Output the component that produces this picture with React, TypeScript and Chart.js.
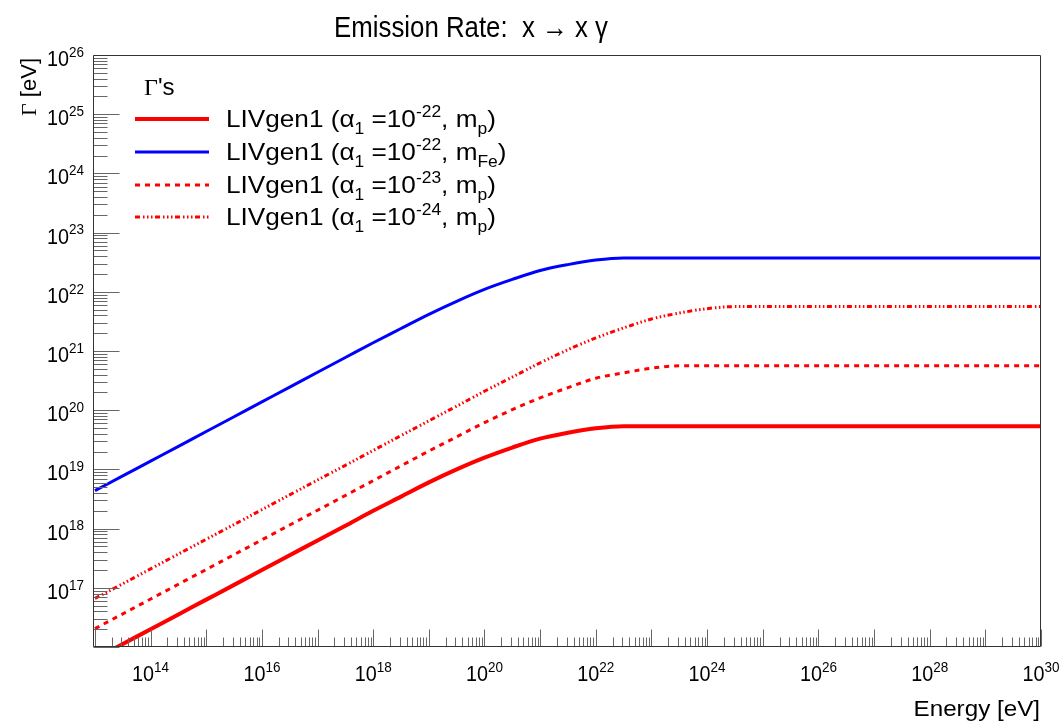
import React, { useEffect, useRef } from "react";
import { Chart, registerables } from "chart.js";

Chart.register(...registerables);

// Particle energy grid [eV]
const energy = [
  1e13, 3.16e13, 1e14, 3.16e14, 1e15, 3.16e15, 1e16, 3.16e16, 1e17, 3.16e17,
  1e18, 3.16e18, 1e19, 3.16e19, 1e20, 3.16e20, 1e21, 3.16e21, 1e22, 3.16e22,
  1e23, 3.16e23, 1e24, 3.16e24, 1e25, 1e26, 1e27, 1e28, 1e29, 1e30,
];

// Emission rates Γ [eV] for each parameter set
const gammaProtonA22 = [
  6.31e15, 1.12e16, 2.0e16, 3.55e16, 6.31e16, 1.12e17, 2.0e17, 3.55e17, 6.31e17, 1.12e18,
  2.0e18, 3.47e18, 6.03e18, 1.0e19, 1.58e19, 2.34e19, 3.31e19, 4.17e19, 4.95e19, 5.37e19,
  5.37e19, 5.37e19, 5.37e19, 5.37e19, 5.37e19, 5.37e19, 5.37e19, 5.37e19, 5.37e19, 5.37e19,
];
const gammaIronA22 = [
  4.37e18, 7.76e18, 1.38e19, 2.45e19, 4.37e19, 7.76e19, 1.38e20, 2.45e20, 4.37e20, 7.76e20,
  1.38e21, 2.4e21, 4.17e21, 6.92e21, 1.1e22, 1.62e22, 2.29e22, 2.88e22, 3.43e22, 3.72e22,
  3.72e22, 3.72e22, 3.72e22, 3.72e22, 3.72e22, 3.72e22, 3.72e22, 3.72e22, 3.72e22, 3.72e22,
];
const gammaProtonA23 = [
  2.04e16, 3.63e16, 6.46e16, 1.15e17, 2.04e17, 3.63e17, 6.46e17, 1.15e18, 2.04e18, 3.63e18,
  6.46e18, 1.15e19, 2.04e19, 3.55e19, 6.17e19, 1.02e20, 1.62e20, 2.4e20, 3.47e20, 4.27e20,
  5.13e20, 5.62e20, 5.62e20, 5.62e20, 5.62e20, 5.62e20, 5.62e20, 5.62e20, 5.62e20, 5.62e20,
];
const gammaProtonA24 = [
  6.61e16, 1.17e17, 2.09e17, 3.72e17, 6.61e17, 1.17e18, 2.09e18, 3.72e18, 6.61e18, 1.17e19,
  2.09e19, 3.72e19, 6.61e19, 1.17e20, 2.09e20, 3.63e20, 6.31e20, 1.05e21, 1.66e21, 2.45e21,
  3.47e21, 4.37e21, 5.19e21, 5.62e21, 5.62e21, 5.62e21, 5.62e21, 5.62e21, 5.62e21, 5.62e21,
];

// Legend entries: [alpha exponent, mass subscript]
const seriesAlphaExp = ["-22", "-22", "-23", "-24"];
const seriesMass = ["p", "Fe", "p", "p"];

// Decade exponents that carry a tick label
const xLabelExps = [14, 16, 18, 20, 22, 24, 26, 28, 30];
const yLabelExps = [17, 18, 19, 20, 21, 22, 23, 24, 25, 26];

const SANS = '"Liberation Sans", Arial, Helvetica, sans-serif';
const SERIF = '"Liberation Serif", "Times New Roman", serif';

type Seg = { t: string; k?: "sup" | "sub"; serif?: boolean };

function segFont(s: Seg, size: number) {
  const sz = s.k ? Math.round(size * 0.68) : size;
  return `${sz}px ${s.serif ? SERIF : SANS}`;
}

function richWidth(ctx: CanvasRenderingContext2D, segs: Seg[], size: number) {
  let w = 0;
  for (const s of segs) {
    ctx.font = segFont(s, size);
    w += ctx.measureText(s.t).width;
  }
  return w;
}

function drawRich(
  ctx: CanvasRenderingContext2D,
  segs: Seg[],
  x: number,
  y: number,
  size: number,
  align: "left" | "center" | "right",
  sx = 1
) {
  const w = richWidth(ctx, segs, size) * sx;
  let cx = align === "left" ? x : align === "center" ? x - w / 2 : x - w;
  ctx.textAlign = "left";
  ctx.textBaseline = "alphabetic";
  for (const s of segs) {
    ctx.font = segFont(s, size);
    const dy = s.k === "sup" ? -size * 0.42 : s.k === "sub" ? size * 0.3 : 0;
    ctx.save();
    ctx.translate(cx, y + dy);
    ctx.scale(sx, 1);
    ctx.fillText(s.t, 0, 0);
    ctx.restore();
    cx += ctx.measureText(s.t).width * sx;
  }
}

const frameDecor = {
  id: "frameDecor",
  afterDatasetsDraw(chart: any) {
    const { ctx, chartArea: a, scales } = chart;
    const xs = scales.x;
    const ys = scales.y;
    const L = Math.round(a.left) + 0.5;
    const R = Math.round(a.right) - 0.5;
    const T = Math.round(a.top) + 0.5;
    const B = Math.round(a.bottom) - 0.5;
    ctx.save();

    // Ticks
    ctx.strokeStyle = "#666";
    ctx.lineWidth = 1;
    ctx.beginPath();
    for (let e = 12; e <= 30; e++) {
      for (let m = 1; m <= 9; m++) {
        const v = m * Math.pow(10, e);
        if (v < xs.min * 0.9999 || v > xs.max * 1.0001) continue;
        const px = Math.round(xs.getPixelForValue(v)) + 0.5;
        const len = m === 1 ? 17 : 9;
        ctx.moveTo(px, B);
        ctx.lineTo(px, B - len);
      }
    }
    for (let e = 16; e <= 26; e++) {
      for (let m = 1; m <= 9; m++) {
        const v = m * Math.pow(10, e);
        if (v < ys.min * 0.9999 || v > ys.max * 1.0001) continue;
        const py = Math.round(ys.getPixelForValue(v)) + 0.5;
        const len = m === 1 ? 26 : 14;
        ctx.moveTo(L, py);
        ctx.lineTo(L + len, py);
      }
    }
    ctx.stroke();

    // Frame
    ctx.strokeStyle = "#333";
    ctx.beginPath();
    ctx.rect(L, T, R - L, B - T);
    ctx.stroke();

    ctx.fillStyle = "#000";
    // X tick labels
    for (const e of xLabelExps) {
      const px = xs.getPixelForValue(Math.pow(10, e));
      drawRich(ctx, [{ t: "10" }, { t: String(e), k: "sup" }], px, 681, 22, "center", 0.9);
    }
    // Y tick labels
    for (const e of yLabelExps) {
      const py = ys.getPixelForValue(Math.pow(10, e));
      drawRich(ctx, [{ t: "10" }, { t: String(e), k: "sup" }], 84, py + 11, 22, "right", 0.9);
    }

    // Axis titles
    drawRich(ctx, [{ t: "Energy [eV]" }], 1040, 716, 22, "right", 1.1);
    ctx.save();
    ctx.translate(36, 58);
    ctx.rotate(-Math.PI / 2);
    drawRich(ctx, [{ t: "Γ", serif: true }, { t: " [eV]" }], 0, 0, 22, "right");
    ctx.restore();

    // Title
    drawRich(ctx, [{ t: "Emission Rate:  x → x γ" }], 471, 37, 30, "center", 0.86);

    // Legend
    drawRich(ctx, [{ t: "Γ", serif: true }, { t: "'s" }], 144, 95, 24, "left");
    const rowY = [119, 152, 185, 217];
    chart.data.datasets.forEach((ds: any, i: number) => {
      const y = rowY[i];
      ctx.save();
      ctx.strokeStyle = ds.borderColor;
      ctx.lineWidth = ds.borderWidth;
      ctx.setLineDash(ds.borderDash || []);
      ctx.beginPath();
      ctx.moveTo(135, y);
      ctx.lineTo(209, y);
      ctx.stroke();
      ctx.restore();
      ctx.fillStyle = "#000";
      drawRich(
        ctx,
        [
          { t: "LIVgen1 (α" },
          { t: "1", k: "sub" },
          { t: " =10" },
          { t: seriesAlphaExp[i], k: "sup" },
          { t: ", m" },
          { t: seriesMass[i], k: "sub" },
          { t: ")" },
        ],
        226,
        y + 8,
        24,
        "left",
        1.09
      );
    });
    ctx.restore();
  },
};

function toPoints(values: number[]) {
  return values.map((v, i) => ({ x: energy[i], y: v }));
}

export default function App() {
  const canvasRef = useRef<HTMLCanvasElement | null>(null);

  useEffect(() => {
    const canvas = canvasRef.current;
    if (!canvas) return;
    const common = {
      pointRadius: 0,
      fill: false,
      cubicInterpolationMode: "monotone" as const,
      clip: 0,
    };
    const chart = new Chart(canvas, {
      type: "line",
      data: {
        datasets: [
          {
            ...common,
            label: "LIVgen1 (α1 =10^-22, m_p)",
            data: toPoints(gammaProtonA22),
            borderColor: "#ff0000",
            borderWidth: 4,
          },
          {
            ...common,
            label: "LIVgen1 (α1 =10^-22, m_Fe)",
            data: toPoints(gammaIronA22),
            borderColor: "#0000ff",
            borderWidth: 3,
          },
          {
            ...common,
            label: "LIVgen1 (α1 =10^-23, m_p)",
            data: toPoints(gammaProtonA23),
            borderColor: "#ff0000",
            borderWidth: 3,
            borderDash: [5, 5],
          },
          {
            ...common,
            label: "LIVgen1 (α1 =10^-24, m_p)",
            data: toPoints(gammaProtonA24),
            borderColor: "#ff0000",
            borderWidth: 3,
            borderDash: [5, 3, 1.5, 2.5, 1.5, 2.5, 1.5, 2.5],
          },
        ],
      },
      options: {
        animation: false,
        responsive: false,
        parsing: false,
        layout: { padding: { left: 93, right: 23, top: 55, bottom: 75 } },
        plugins: {
          legend: { display: false },
          title: { display: false },
          tooltip: { enabled: false },
        },
        scales: {
          x: { type: "logarithmic", min: Math.pow(10, 12.965), max: 1e30, display: false },
          y: { type: "logarithmic", min: 1e16, max: 1e26, display: false },
        },
      },
      plugins: [frameDecor],
    });
    return () => chart.destroy();
  }, []);

  return (
    <div style={{ position: "absolute", left: 0, top: 0, width: 1064, height: 722, background: "#fff" }}>
      <canvas ref={canvasRef} width={1064} height={722} style={{ display: "block" }} />
    </div>
  );
}
